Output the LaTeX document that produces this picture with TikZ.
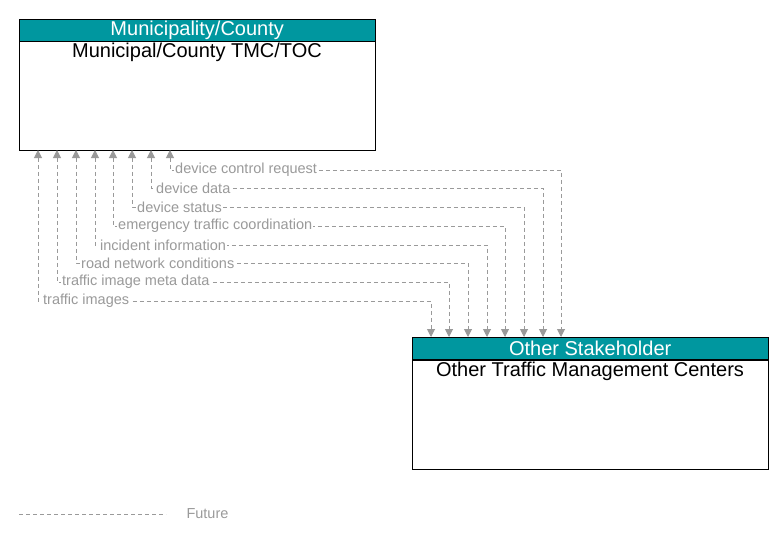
\documentclass[tikz,border=0pt]{standalone}
\usepackage{fontspec}
\setmainfont{Liberation Sans}
\usetikzlibrary{arrows.meta}
\definecolor{teal1}{HTML}{00979F}
\definecolor{flowc}{HTML}{9A9A9A}
\begin{document}
\begin{tikzpicture}[x=1pt,y=-1pt,
  hdr/.style={draw=black,fill=teal1,text=white,minimum width=356pt,minimum height=22pt,inner sep=0pt,font=\fontsize{20}{22}\selectfont},
  body/.style={draw=black,fill=white,minimum width=356pt,minimum height=109pt,inner sep=0pt},
  flow/.style={draw=flowc,dash pattern=on 4pt off 3pt,{Triangle[length=8pt,width=8pt,fill=flowc,sep=0pt]}-{Triangle[length=8pt,width=8pt,fill=flowc]},line width=1pt},
  lab/.style={text=flowc,font=\fontsize{14.5}{16}\selectfont,anchor=west,inner sep=1pt,fill=white}]
\useasboundingbox (0,0) rectangle (783,543);
\node[body,anchor=north west] (tb) at (19,41) {};
\node[hdr,anchor=north west] (th) at (19,19) {Municipality/County};
\node[anchor=north,font=\fontsize{20}{22}\selectfont,inner sep=2pt] (tt) at (197,41) {Municipal/County TMC/TOC};
\node[body,anchor=north west] (bb) at (412,360) {};
\node[hdr,anchor=north west] (bh) at (412,337) {Other Stakeholder};
\node[anchor=north,font=\fontsize{20}{22}\selectfont,inner sep=2pt] (bt) at (590,360) {Other Traffic Management Centers};
\foreach \i/\xa/\xb/\y/\t in {
 1/170/561/170/device control request,
 2/151/543/188/device data,
 3/132/524/207/device status,
 4/113/505/226/emergency traffic coordination,
 5/95/487/245/incident information,
 6/76/468/263/road network conditions,
 7/57/449/282/traffic image meta data,
 8/38/431/301/traffic images}{
  \coordinate (a\i) at (\xa,150);
  \coordinate (b\i) at (\xb,337);
  \draw[flow] (a\i) -- (\xa,\y) -- (\xb,\y) -- (b\i);
  \node[lab] (l\i) at (\xa+4,\y) {\t};
}
\coordinate (f1) at (19,514);
\coordinate (f2) at (166,514);
\draw[draw=flowc,dash pattern=on 4pt off 3pt,line width=1pt] (f1) -- (f2);
\node[text=flowc,font=\fontsize{14.5}{16}\selectfont,anchor=west] (fl) at (183,514) {Future};
\end{tikzpicture}
\end{document}
